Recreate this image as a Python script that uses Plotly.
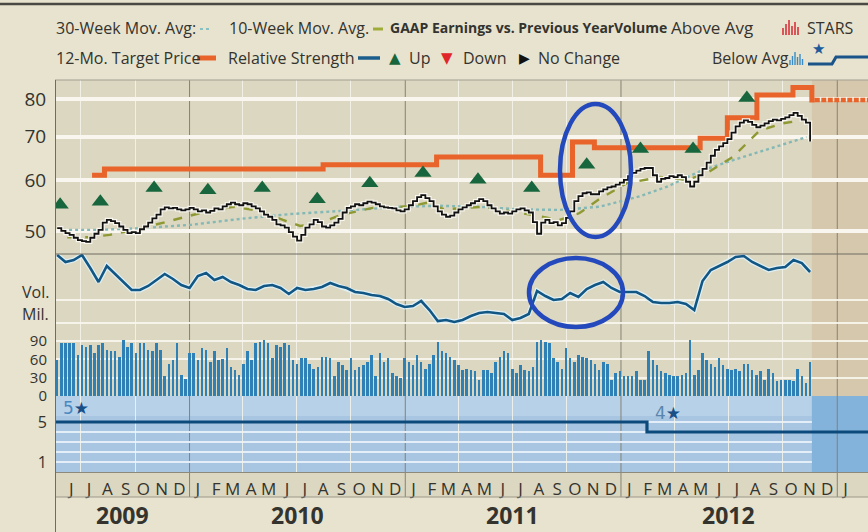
import math
import pandas as pd
import plotly.graph_objects as go

W, H = 868, 532
FONT = "Open Sans"
TXT = "#34332e"


def px(x):
    return x / W


def py(y):
    return 1 - y / H


# ---------------- data ----------------
week_start = "2009-05-22"

price = [
    50.5, 50.0, 49.6, 49.3, 48.8, 48.4, 48.2, 48.1, 48.8, 49.5,
    50.2, 51.5, 52.0, 51.8, 51.4, 50.8, 50.2, 49.6, 49.8, 49.6,
    50.3, 50.8, 51.5, 52.3, 53.0, 54.0, 54.4, 54.2, 54.3, 54.0,
    53.8, 54.0, 54.3, 54.0, 53.6, 53.8, 53.4, 53.7, 54.2, 54.0,
    54.6, 55.0, 55.3, 55.0, 54.8, 55.2, 55.0, 54.6, 54.2, 53.6,
    53.0, 52.6, 52.0, 51.2, 51.0, 50.6, 49.8, 49.0, 48.3, 49.3,
    50.6, 51.2, 52.0, 51.6, 50.8, 50.6, 51.0, 51.5, 52.2, 53.4,
    54.3, 54.6, 55.0, 54.8, 55.2, 55.5, 55.3, 55.0, 54.6, 54.4,
    54.3, 54.2, 53.8, 53.6, 54.0, 54.8, 55.6, 56.4, 56.8, 56.2,
    55.6, 54.6, 53.6, 53.0, 52.6, 52.8, 53.4, 54.0, 54.4, 54.8,
    55.2, 55.6, 56.0, 55.6, 54.8, 54.2, 53.6, 53.2, 53.4, 53.2,
    53.6, 54.0, 54.2, 53.8, 53.4, 51.6, 49.5, 51.5, 52.0, 51.4,
    51.6, 51.0, 51.4, 52.4, 53.6, 55.6, 56.6, 57.2, 57.4, 57.0,
    57.0, 57.6, 58.0, 58.4, 58.6, 59.0, 59.4, 60.0, 60.8, 61.5,
    62.0, 62.4, 62.6, 62.6, 61.0, 59.6, 60.2, 60.4, 60.8, 60.6,
    61.0, 60.6, 59.6, 58.6, 59.6, 61.0, 62.4, 63.8, 65.4, 66.8,
    67.6, 68.4, 69.4, 71.0, 72.6, 73.6, 74.2, 73.8, 73.0, 72.4,
    72.8, 73.4, 74.0, 74.4, 74.2, 74.6, 75.0, 75.6, 76.2, 75.4,
    74.4, 73.6, 68.8,
]

volume = [
    # 2009
    59, 86, 86, 86, 86, 67, 84, 81, 84, 70, 84, 86, 75, 73, 73, 64, 92, 81, 86, 70,
    86, 86, 75, 73, 86, 75, 32, 53, 59, 86, 34, 28,
    # 2010
    70, 70, 59, 78, 75, 56, 73, 59, 61, 78, 48, 43,
    34, 53, 73, 59, 86, 89, 92, 86, 62, 84, 81, 86, 84, 59,
    53, 62, 62, 53, 45, 48, 64, 64, 62, 32, 56, 51, 43, 62, 43, 48, 51, 56, 67, 32,
    70, 56, 62, 37, 32, 30,
    # 2011
    62, 56, 51, 67, 56, 45, 53, 67, 89, 73, 70, 64, 59, 51, 43, 45, 43, 41, 26, 43,
    43, 37, 56,
    64, 73, 70, 45, 37, 51, 43, 41, 48, 89, 92, 89, 86, 62, 56, 45, 78, 62, 56, 67,
    64, 62, 59, 53, 43, 56, 53, 26, 37,
    # 2012
    41, 32, 32, 32, 41, 26, 26, 73, 59, 51, 41, 37, 34, 32, 32, 34, 37, 92, 34, 43,
    70, 59, 53, 48, 62, 51, 45, 43, 45, 41, 53, 53, 43, 34, 41, 26, 45, 37, 24, 26,
    26, 26, 24, 45, 32, 21, 56,
]

# relative strength, every second week (unitless index, panel height)
rel_strength = [
    75, 68, 70, 75, 62, 48, 64, 56, 48, 40,
    40, 44, 50, 56, 51, 45, 42, 54, 57, 50,
    53, 48, 45, 41, 40, 44, 45, 42, 36, 42,
    40, 41, 43, 47, 44, 42, 38, 37, 35, 34,
    31, 26, 23, 24, 29, 20, 9, 10, 8, 10,
    14, 17, 18, 17, 16, 10, 12, 16, 39, 34,
    30, 31, 37, 33, 41, 45, 48, 42, 38, 38,
    38, 34, 28, 27, 27, 28, 26, 20, 49, 60,
    64, 68, 73, 74, 68, 64, 60, 62, 63, 70,
    67, 58,
]

ma10_dates = ["2009-06-08", "2009-07-17", "2009-08-19", "2009-10-01", "2009-11-21",
              "2010-01-19", "2010-03-16", "2010-04-30", "2010-06-08", "2010-07-07",
              "2010-08-10", "2010-09-13", "2010-11-07", "2011-01-09", "2011-02-07",
              "2011-03-08", "2011-05-12", "2011-06-27", "2011-08-16", "2011-09-19",
              "2011-10-23", "2011-11-25", "2012-01-11", "2012-03-07", "2012-04-22",
              "2012-05-26", "2012-07-09", "2012-08-23", "2012-10-04", "2012-11-07"]
ma10 = [48.9, 48.9, 49.3, 50.2, 51.6, 53.3, 54.5, 53.7, 52.0, 50.9,
        51.5, 52.9, 54.3, 54.6, 55.3, 54.0, 54.5, 53.7, 52.7, 52.0,
        53.3, 56.0, 59.3, 60.6, 60.0, 61.5, 65.2, 71.6, 73.5, 74.3]

ma30_dates = ["2009-06-01", "2009-08-03", "2009-10-10", "2010-01-03", "2010-03-28",
              "2010-06-20", "2010-09-13", "2010-12-23", "2011-02-28", "2011-05-07",
              "2011-07-14", "2011-09-19", "2011-11-25", "2012-02-02", "2012-03-18",
              "2012-05-14", "2012-07-09", "2012-09-09", "2012-11-10"]
ma30 = [50.2, 50.2, 50.5, 51.1, 52.2, 53.1, 53.7, 54.5, 54.7, 54.5,
        54.0, 53.9, 54.5, 56.6, 58.5, 61.9, 64.4, 67.1, 69.9]

target_dates = ["2009-07-20", "2009-08-10", "2010-08-15", "2011-02-23", "2011-08-18",
                "2011-10-11", "2011-11-17", "2012-05-14", "2012-06-29", "2012-08-18",
                "2012-10-18", "2012-11-19", "2012-11-24"]
target = [61.0, 62.4, 63.3, 65.1, 61.0, 68.7, 67.3, 69.6, 74.9, 81.2, 83.4, 79.8, 79.8]
proj_dates = ["2012-11-24", "2013-02-22"]
proj_target = [79.8, 79.8]

eps_dates = ["2009-05-27", "2009-08-03", "2009-11-02", "2010-02-01", "2010-05-04",
             "2010-08-05", "2010-11-02", "2011-01-31", "2011-05-04", "2011-08-03",
             "2011-11-04", "2012-02-03", "2012-05-02", "2012-08-01"]
eps_up = [54.9, 55.5, 58.3, 57.8, 58.3, 56.0, 59.3, 61.5, 60.0, 58.3,
          63.3, 67.0, 67.0, 80.4]

star_dates = ["2009-05-20", "2012-02-14", "2013-02-22"]
stars = [5, 4, 4]

month_letters = list("JJASOND") + list("JFMAMJJASOND") * 3 + ["J"]
year_labels = ["2009", "2010", "2011", "2012"]
year_label_dates = ["2009-09-10", "2010-07-02", "2011-07-02", "2012-07-01"]
year_lines = ["2010-01-01", "2011-01-01", "2012-01-01", "2013-01-01"]
price_ticks = [50, 60, 70, 80]
vol_ticks = [0, 30, 60, 90]
star_ticks = [1, 5]

x_range = ["2009-05-20", "2013-02-22"]
proj_start = "2012-11-19"

weeks = pd.date_range(week_start, periods=len(price), freq="7D")
rs_dates = weeks[::2]
month_ticks = pd.date_range("2009-06-01", periods=len(month_letters), freq="MS") + pd.Timedelta(days=14)
quarter_lines = [d for d in pd.date_range("2009-07-01", "2013-01-01", freq="QS") if d.month != 1]

# ---------------- colours ----------------
OUTER = "#e7e3cf"
BG = "#dcd7c0"
PROJ = "#d6c8ad"
STAR_BG = "#a8c6e2"
STAR_TOP = "#b7d1e9"
STAR_PROJ = "#83b3da"
ORANGE = "#e9642a"
GREEN = "#17663d"
BLUE_LINE = "#125683"
BAR = "#2f80b5"

fig = go.Figure()

fig.add_trace(go.Bar(x=weeks, y=volume, yaxis="y3", marker=dict(color=BAR, line=dict(width=0)),
                     width=86400000 * 4.3))
fig.add_trace(go.Scatter(x=ma30_dates, y=ma30, mode="lines",
                         line=dict(color="#84b8b6", width=2.4, dash="dot")))
fig.add_trace(go.Scatter(x=ma10_dates, y=ma10, mode="lines",
                         line=dict(color="#8e9933", width=2.4, dash="dash")))
fig.add_trace(go.Scatter(x=target_dates, y=target, mode="lines",
                         line=dict(color=ORANGE, width=5, shape="hv")))
fig.add_trace(go.Scatter(x=proj_dates, y=proj_target, mode="lines",
                         line=dict(color=ORANGE, width=4.5, dash="5px,1.5px")))
fig.add_trace(go.Scatter(x=weeks, y=price, mode="lines",
                         line=dict(color="#f8f6ee", width=4.2, shape="hv")))
fig.add_trace(go.Scatter(x=weeks, y=price, mode="lines",
                         line=dict(color="#111111", width=1.8, shape="hv")))
fig.add_trace(go.Scatter(x=eps_dates, y=eps_up, mode="markers",
                         marker=dict(symbol="triangle-up", size=15, color=GREEN)))
fig.add_trace(go.Scatter(x=rs_dates, y=rel_strength, yaxis="y2", mode="lines",
                         line=dict(color="#dff0f5", width=5)))
fig.add_trace(go.Scatter(x=rs_dates, y=rel_strength, yaxis="y2", mode="lines",
                         line=dict(color=BLUE_LINE, width=2.6)))
fig.add_trace(go.Scatter(x=star_dates, y=stars, yaxis="y4", mode="lines",
                         line=dict(color="#0c4a7b", width=3.2, shape="hv")))

shapes = []
# panel backgrounds (paper)
shapes.append(dict(type="rect", xref="paper", yref="paper", x0=px(55), x1=1, y0=py(497), y1=py(80),
                   fillcolor=BG, line=dict(width=0), layer="below"))
shapes.append(dict(type="rect", xref="paper", yref="paper", x0=px(55), x1=1, y0=py(472), y1=py(396),
                   fillcolor=STAR_BG, line=dict(width=0), layer="below"))
shapes.append(dict(type="rect", xref="paper", yref="paper", x0=px(55), x1=1, y0=py(416), y1=py(396),
                   fillcolor=STAR_TOP, line=dict(width=0), layer="below"))
# projection area
shapes.append(dict(type="rect", xref="x", yref="paper", x0=proj_start, x1=x_range[1], y0=py(396), y1=py(80),
                   fillcolor=PROJ, line=dict(width=0), layer="below"))
shapes.append(dict(type="rect", xref="x", yref="paper", x0=proj_start, x1=x_range[1], y0=py(472), y1=py(396),
                   fillcolor=STAR_PROJ, line=dict(width=0), layer="below"))
# star grid lines (stop at projection)
for v in [1, 2, 3, 4, 5]:
    shapes.append(dict(type="line", xref="x", yref="y4", x0=x_range[0], x1=proj_start, y0=v, y1=v,
                       line=dict(color="#e4eef8", width=2), layer="below"))
# year lines
for d in year_lines:
    shapes.append(dict(type="line", xref="x", yref="paper", x0=d, x1=d, y0=py(497), y1=py(80),
                       line=dict(color="#858274", width=1), layer="below"))
# borders
shapes.append(dict(type="line", xref="paper", yref="paper", x0=0, x1=1, y0=py(4), y1=py(4),
                   line=dict(color="#4a4944", width=2.5)))
shapes.append(dict(type="line", xref="paper", yref="paper", x0=px(55), x1=1, y0=py(80), y1=py(80),
                   line=dict(color="#a29f90", width=1)))
shapes.append(dict(type="line", xref="paper", yref="paper", x0=px(55), x1=1, y0=py(254), y1=py(254),
                   line=dict(color="#6f6d63", width=1)))
shapes.append(dict(type="line", xref="paper", yref="paper", x0=px(55), x1=1, y0=py(472.5), y1=py(472.5),
                   line=dict(color="#8c897c", width=1)))
shapes.append(dict(type="line", xref="paper", yref="paper", x0=px(55), x1=1, y0=py(497), y1=py(497),
                   line=dict(color="#9c998b", width=1)))
shapes.append(dict(type="line", xref="paper", yref="paper", x0=px(55.5), x1=px(55.5), y0=0, y1=py(80),
                   line=dict(color="#6f6d63", width=1)))
# hand drawn ellipses
shapes.append(dict(type="circle", xref="paper", yref="paper", x0=px(560), x1=px(631), y0=py(237), y1=py(104),
                   line=dict(color="#2349bd", width=4.5)))
shapes.append(dict(type="circle", xref="paper", yref="paper", x0=px(529), x1=px(623), y0=py(327), y1=py(258),
                   line=dict(color="#2349bd", width=4.5)))

# legend icons
shapes.append(dict(type="line", xref="paper", yref="paper", x0=px(200), x1=px(212), y0=py(29), y1=py(29),
                   line=dict(color="#86c0c0", width=2, dash="dot")))
shapes.append(dict(type="line", xref="paper", yref="paper", x0=px(373), x1=px(383), y0=py(29), y1=py(29),
                   line=dict(color="#a0ac3a", width=3)))
shapes.append(dict(type="line", xref="paper", yref="paper", x0=px(197), x1=px(216), y0=py(58), y1=py(58),
                   line=dict(color=ORANGE, width=5)))
shapes.append(dict(type="line", xref="paper", yref="paper", x0=px(358), x1=px(380), y0=py(58), y1=py(58),
                   line=dict(color="#1b5e8c", width=3.5)))
for i, hgt in enumerate([7, 11, 15, 9, 13, 8]):
    xx = 783 + i * 3
    shapes.append(dict(type="line", xref="paper", yref="paper", x0=px(xx), x1=px(xx), y0=py(35), y1=py(35 - hgt),
                       line=dict(color="#d8323a", width=1.6)))
for i, hgt in enumerate([5, 9, 13, 8, 11, 6]):
    xx = 790 + i * 2.5
    shapes.append(dict(type="line", xref="paper", yref="paper", x0=px(xx), x1=px(xx), y0=py(65), y1=py(65 - hgt),
                       line=dict(color="#3b8cc4", width=1.4)))
shapes.append(dict(type="path", xref="paper", yref="paper",
                   path=f"M {px(808)} {py(64)} L {px(832)} {py(64)} L {px(836)} {py(57)} L 1 {py(57)}",
                   line=dict(color="#1a5488", width=3)))


def txt(x, y, s, size=16, color=TXT, anchor="left", xref="paper", family=FONT):
    return dict(xref=xref, yref="paper", x=x if xref != "paper" else px(x), y=py(y), text=s,
                showarrow=False, xanchor=anchor, yanchor="middle", align=anchor if anchor != "center" else "center",
                borderpad=0, font=dict(family=family, size=size, color=color))


ann = []
# legend row 1
ann.append(txt(55, 28, "30-Week Mov. Avg:"))
ann.append(txt(228, 28, "10-Week Mov. Avg."))
ann.append(txt(389, 28, "<b>GAAP Earnings vs. Previous Year</b>", size=14))
ann.append(txt(613, 28, "<b>Volume</b>", size=14))
ann.append(txt(670, 28, "Above Avg", size=17))
ann.append(txt(806, 28, "STARS"))
# legend row 2
ann.append(txt(55, 58, "12-Mo. Target Price"))
ann.append(txt(227, 58, "Relative Strength"))
ann.append(txt(395, 58, "▲", size=15, color=GREEN, anchor="center", family="DejaVu Sans"))
ann.append(txt(408, 58, "Up"))
ann.append(txt(447, 58, "▼", size=15, color="#e0262b", anchor="center", family="DejaVu Sans"))
ann.append(txt(462, 58, "Down"))
ann.append(txt(524, 58, "▶", size=14, color="#111111", anchor="center", family="DejaVu Sans"))
ann.append(txt(537, 58, "No Change"))
ann.append(txt(711, 58, "Below Avg"))
ann.append(txt(818, 49, "★", size=15, color="#1d5a9a", anchor="center", family="DejaVu Sans"))
# side labels
ann.append(txt(50, 292, "Vol.", size=16, anchor="right"))
ann.append(txt(50, 314, "Mil.", size=16, anchor="right"))
# star level labels
ann.append(txt(62, 408, "<span style='color:#4a88c0'>5</span><span style='color:#174f86'>★</span>",
               size=17, family="DejaVu Sans"))
ann.append(txt(654, 413, "<span style='color:#5a86ad'>4</span><span style='color:#174f86'>★</span>",
               size=17, family="DejaVu Sans"))
# years
for lab, d in zip(year_labels, year_label_dates):
    ann.append(txt(d, 515, f"<b>{lab}</b>", size=23, anchor="center", xref="x"))

axis_common = dict(showline=False, zeroline=False, fixedrange=True, automargin=False,
                   ticks="outside", ticklen=5, tickcolor="rgba(0,0,0,0)")

fig.update_layout(
    width=W, height=H, template="none",
    margin=dict(l=0, r=0, t=0, b=0, pad=0),
    paper_bgcolor=OUTER, plot_bgcolor="rgba(0,0,0,0)",
    showlegend=False, bargap=0,
    xaxis=dict(domain=[px(56), 1], anchor="y4", type="date", range=x_range,
               tickmode="array", tickvals=month_ticks, ticktext=month_letters,
               tickfont=dict(family=FONT, size=17, color=TXT),
               showgrid=False, showline=False, zeroline=False, fixedrange=True, automargin=False,
               ticks="outside", ticklen=2, tickcolor="rgba(0,0,0,0)",
               minor=dict(tickmode="array", tickvals=quarter_lines, showgrid=True,
                          gridcolor="rgba(246,244,234,0.85)", gridwidth=1, ticks="")),
    yaxis=dict(domain=[py(254), py(80)], type="log",
               range=[math.log10(46.05), math.log10(85.7)],
               tickmode="array", tickvals=price_ticks, ticktext=[str(v) for v in price_ticks],
               tickfont=dict(family=FONT, size=19, color=TXT),
               showgrid=True, gridcolor="#f8f6ee", gridwidth=3.5, **axis_common),
    yaxis2=dict(domain=[py(330), py(254)], range=[0, 76],
                tickmode="array", tickvals=[7, 30], showticklabels=False,
                showgrid=True, gridcolor="rgba(248,246,238,0.9)", gridwidth=2, **axis_common),
    yaxis3=dict(domain=[py(396), py(330)], range=[0, 108],
                tickmode="array", tickvals=vol_ticks, ticktext=[str(v) for v in vol_ticks],
                tickfont=dict(family=FONT, size=15, color=TXT),
                showgrid=True, gridcolor="rgba(248,246,238,0.9)", gridwidth=1.5, **axis_common),
    yaxis4=dict(domain=[py(472), py(396)], range=[0, 7.6],
                tickmode="array", tickvals=star_ticks, ticktext=[str(v) for v in star_ticks],
                tickfont=dict(family=FONT, size=16, color=TXT),
                showgrid=False, **axis_common),
    shapes=shapes,
    annotations=ann,
)

fig.write_html("out.html",
               config={"displayModeBar": False},
               post_script="document.body.style.margin='0';document.body.style.padding='0';"
                           "document.documentElement.style.overflow='hidden';")
